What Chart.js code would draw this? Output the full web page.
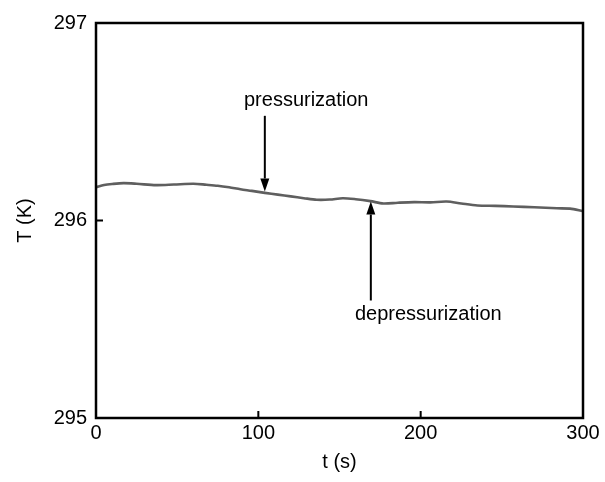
<!DOCTYPE html>
<html>
<head>
<meta charset="utf-8">
<script src="https://cdn.jsdelivr.net/npm/chart.js@4/dist/chart.umd.min.js"></script>
<style>
  html, body { margin: 0; padding: 0; background: #fff; }
  #wrap { width: 605px; height: 482px; }
</style>
</head>
<body>
<div id="wrap"><canvas id="tempChart"></canvas></div>
<script>
// time (s) and temperature (K)
const times = [0, 5, 10, 17, 25, 37, 48, 60, 68, 75, 82, 89, 96, 104, 112, 120, 128, 136, 144, 152,
               160, 169, 177, 186, 196, 206, 216, 225, 235, 246, 257, 270, 284, 292, 300];
const temps = [296.169, 296.180, 296.185, 296.189, 296.186, 296.179, 296.182, 296.186, 296.181, 296.176,
               296.168, 296.158, 296.150, 296.140, 296.131, 296.122, 296.113, 296.105, 296.106, 296.113,
               296.108, 296.098, 296.086, 296.090, 296.093, 296.092, 296.096, 296.086, 296.076, 296.074,
               296.071, 296.067, 296.062, 296.060, 296.047];

const xTicks = [0, 100, 200, 300];
const yTicks = [295, 296, 297];

// annotations: label, text position, arrow start and tip (data units)
const noteLabels = ['pressurization', 'depressurization'];
const noteTextX = [129.5, 204.7];
const noteTextY = [296.608, 295.524];
const arrowX = [104, 169.3];
const arrowFrom = [296.53, 295.595];
const arrowTo = [296.147, 296.096];

const FONT = "'Liberation Sans', Arial, sans-serif";

// box + inward ticks + arrows
const framePlugin = {
    id: 'frame',
    afterDatasetsDraw(chart) {
        const ctx = chart.ctx;
        const a = chart.chartArea;
        const xs = chart.scales.x, ys = chart.scales.y;
        ctx.save();
        ctx.strokeStyle = '#000';
        ctx.lineWidth = 2.5;
        ctx.strokeRect(a.left, a.top, a.right - a.left, a.bottom - a.top);

        ctx.lineWidth = 2;
        ctx.beginPath();
        xTicks.slice(1, -1).forEach(v => {
            const px = xs.getPixelForValue(v);
            ctx.moveTo(px, a.bottom);
            ctx.lineTo(px, a.bottom - 7);
        });
        yTicks.slice(1, -1).forEach(v => {
            const py = ys.getPixelForValue(v);
            ctx.moveTo(a.left, py);
            ctx.lineTo(a.left + 7, py);
        });
        ctx.stroke();

        // arrows
        ctx.fillStyle = '#000';
        for (let i = 0; i < arrowX.length; i++) {
            const px = xs.getPixelForValue(arrowX[i]);
            const y0 = ys.getPixelForValue(arrowFrom[i]);
            const y1 = ys.getPixelForValue(arrowTo[i]);
            const dir = y1 > y0 ? 1 : -1;
            const head = 13;
            ctx.lineWidth = 2;
            ctx.beginPath();
            ctx.moveTo(px, y0);
            ctx.lineTo(px, y1 - dir * head);
            ctx.stroke();
            ctx.beginPath();
            ctx.moveTo(px, y1);
            ctx.lineTo(px - 4.5, y1 - dir * head);
            ctx.lineTo(px + 4.5, y1 - dir * head);
            ctx.closePath();
            ctx.fill();
        }

        ctx.font = '20px ' + FONT;
        ctx.textAlign = 'center';
        ctx.textBaseline = 'middle';
        for (let i = 0; i < noteLabels.length; i++) {
            ctx.fillText(noteLabels[i], xs.getPixelForValue(noteTextX[i]), ys.getPixelForValue(noteTextY[i]));
        }
        ctx.restore();
    }
};

new Chart(document.getElementById('tempChart'), {
    type: 'line',
    data: {
        datasets: [{
            data: times.map((t, i) => ({ x: t, y: temps[i] })),
            borderColor: '#5f5f5f',
            borderWidth: 2.6,
            pointRadius: 0,
            tension: 0.3,
            fill: false
        }]
    },
    options: {
        responsive: true,
        maintainAspectRatio: false,
        animation: false,
        layout: { padding: { top: 23, right: 22, left: 0, bottom: 0 } },
        plugins: { legend: { display: false }, tooltip: { enabled: false } },
        scales: {
            x: {
                type: 'linear',
                min: 0, max: 300,
                afterBuildTicks: s => { s.ticks = xTicks.map(v => ({ value: v })); },
                afterFit: s => { s.height = 64; },
                grid: { display: false, drawTicks: false },
                border: { display: false },
                ticks: { color: '#000', padding: 3, maxRotation: 0, font: { family: FONT, size: 20 } },
                title: { display: true, text: 't (s)', color: '#000', padding: { top: 0, bottom: 8 },
                         font: { family: FONT, size: 20, lineHeight: 1.2 } }
            },
            y: {
                min: 295, max: 297,
                afterBuildTicks: s => { s.ticks = yTicks.map(v => ({ value: v })); },
                afterFit: s => { s.width = 96; },
                grid: { display: false, drawTicks: false },
                border: { display: false },
                ticks: { color: '#000', padding: 9, font: { family: FONT, size: 20 } },
                title: { display: true, text: 'T (K)', color: '#000', padding: { top: 13, bottom: 0 },
                         font: { family: FONT, size: 20, lineHeight: 1.2 } }
            }
        }
    },
    plugins: [framePlugin]
});
</script>
</body>
</html>
